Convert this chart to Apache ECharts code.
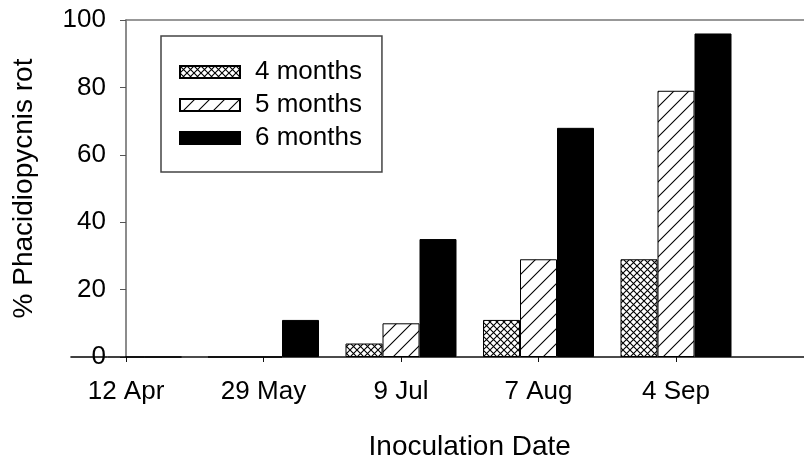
<!DOCTYPE html>
<html>
<head>
<meta charset="utf-8">
<script src="https://cdn.jsdelivr.net/npm/echarts@6/dist/echarts.min.js"></script>
<style>
html,body{margin:0;padding:0;background:#fff;}
#chart{width:804px;height:457px;}
</style>
</head>
<body>
<div id="chart"></div>
<script>
const categories = ['12 Apr', '29 May', '9 Jul', '7 Aug', '4 Sep', ''];
const seriesNames = ['4 months', '5 months', '6 months'];
const months4 = [0, 0, 4, 11, 29, null];
const months5 = [0, 0, 10, 29, 79, null];
const months6 = [0, 11, 35, 68, 96, null];
const yTicks = { min: 0, max: 100, interval: 20 };

function crossHatch() {
  const s = 7;
  const c = document.createElement('canvas');
  c.width = s; c.height = s;
  const g = c.getContext('2d');
  g.fillStyle = '#fff'; g.fillRect(0, 0, s, s);
  g.strokeStyle = '#000'; g.lineWidth = 1.1;
  g.beginPath();
  g.moveTo(-1, -1); g.lineTo(s + 1, s + 1);
  g.moveTo(s + 1, -1); g.lineTo(-1, s + 1);
  g.stroke();
  return c;
}
function diagHatch() {
  const s = 15;
  const c = document.createElement('canvas');
  c.width = s; c.height = s;
  const g = c.getContext('2d');
  g.fillStyle = '#fff'; g.fillRect(0, 0, s, s);
  g.strokeStyle = '#000'; g.lineWidth = 1.1;
  g.beginPath();
  for (const o of [-s, 0, s]) {
    g.moveTo(o - 2, s + 2); g.lineTo(o + s + 2, -2);
  }
  g.stroke();
  return c;
}

const font = "'Liberation Sans', Arial, sans-serif";
const chart = echarts.init(document.getElementById('chart'), null, { renderer: 'canvas' });

const barBase = { type: 'bar', barWidth: 37, barGap: '0%', clip: true, animation: false };

chart.setOption({
  animation: false,
  backgroundColor: '#fff',
  textStyle: { fontFamily: font, color: '#000' },
  grid: { left: 126, right: -9.5, top: 20, bottom: 100, containLabel: false, outerBoundsMode: 'none' },
  legend: {
    data: seriesNames,
    orient: 'vertical',
    left: 161, top: 36,
    padding: [23, 20, 21, 18],
    itemGap: 7,
    itemWidth: 60, itemHeight: 12,
    icon: 'rect',
    borderColor: '#444', borderWidth: 1.5,
    backgroundColor: '#fff',
    textStyle: { fontFamily: font, fontSize: 26, color: '#000', padding: [0, 0, 0, 10] }
  },
  xAxis: [{
    type: 'category',
    data: categories,
    boundaryGap: false,
    position: 'bottom',
    name: 'Inoculation Date',
    nameLocation: 'middle',
    nameGap: 76,
    nameTextStyle: { fontFamily: font, fontSize: 28, color: '#000' },
    axisLine: { show: true, onZero: false, lineStyle: { color: '#111', width: 1.5 } },
    axisTick: { show: true, length: 5, interval: 0, lineStyle: { color: '#111', width: 1 } },
    axisLabel: { interval: 0, margin: 22, fontFamily: font, fontSize: 26, color: '#000' },
    splitLine: { show: false }
  }, {
    type: 'category',
    data: categories,
    boundaryGap: false,
    position: 'top',
    axisLine: { show: true, onZero: false, lineStyle: { color: '#777', width: 1.5 } },
    axisTick: { show: false },
    axisLabel: { show: false },
    splitLine: { show: false }
  }],
  yAxis: {
    type: 'value',
    min: yTicks.min, max: yTicks.max, interval: yTicks.interval,
    name: '% Phacidiopycnis rot',
    nameLocation: 'middle',
    nameGap: 88,
    nameTextStyle: { fontFamily: font, fontSize: 28, color: '#000' },
    axisLine: { show: true, lineStyle: { color: '#666', width: 1.5 } },
    axisTick: { show: true, length: 6, inside: false, lineStyle: { color: '#555', width: 1 } },
    axisLabel: { margin: 20, fontFamily: font, fontSize: 26, color: '#000' },
    splitLine: { show: false }
  },
  series: [
    Object.assign({}, barBase, {
      name: seriesNames[0], data: months4,
      itemStyle: { color: { image: crossHatch(), repeat: 'repeat' }, borderColor: '#000', borderWidth: 1 }
    }),
    Object.assign({}, barBase, {
      name: seriesNames[1], data: months5,
      itemStyle: { color: { image: diagHatch(), repeat: 'repeat' }, borderColor: '#000', borderWidth: 1 }
    }),
    Object.assign({}, barBase, {
      name: seriesNames[2], data: months6,
      itemStyle: { color: '#000', borderColor: '#000', borderWidth: 1 }
    })
  ]
});
</script>
</body>
</html>
